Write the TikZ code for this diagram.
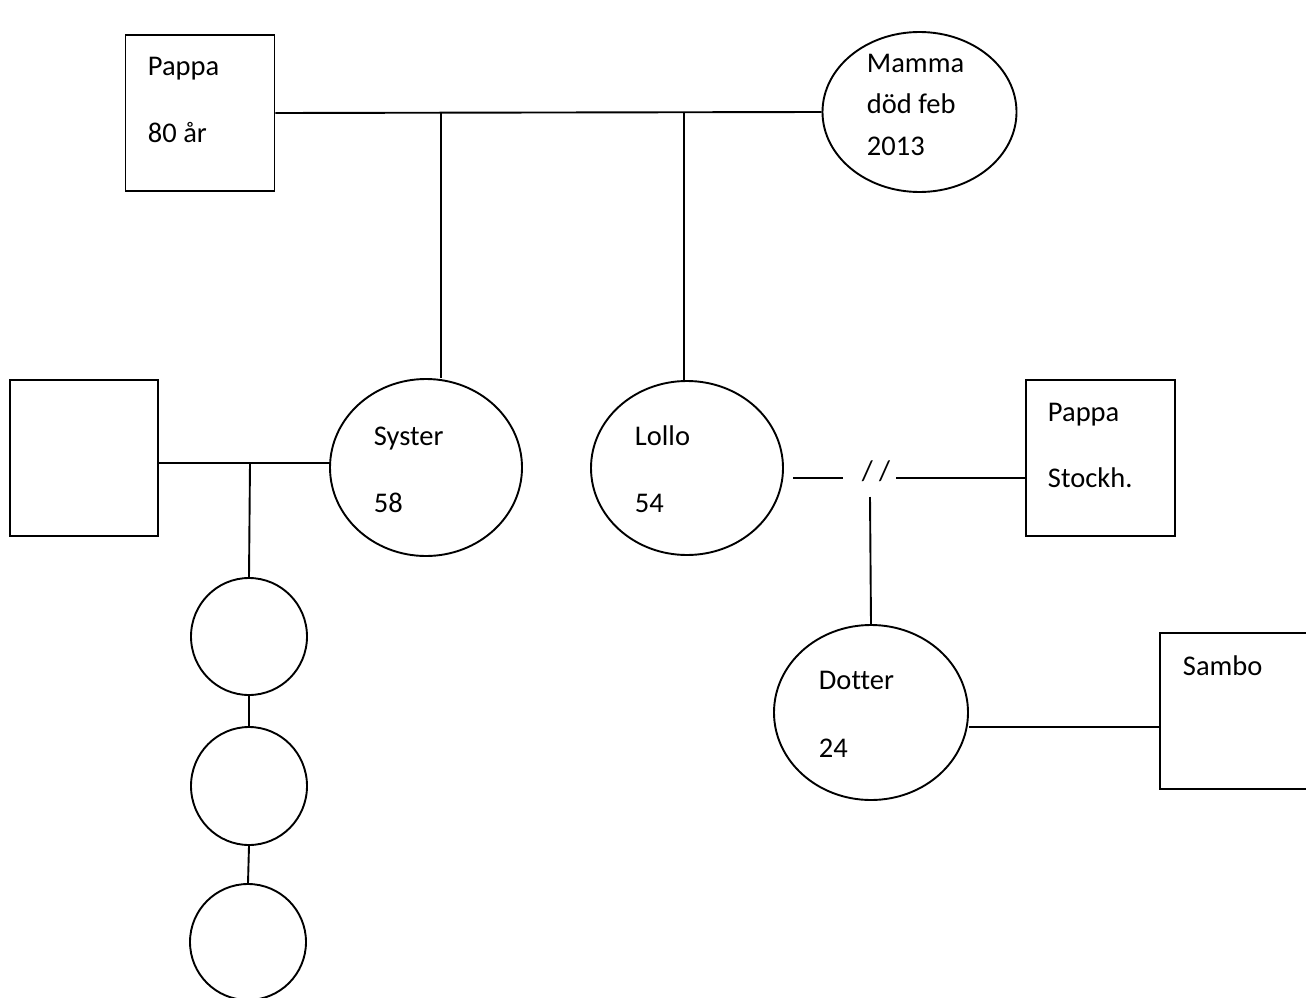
\documentclass[tikz,border=0pt]{standalone}
\usepackage{fontspec}
\setmainfont{Carlito}[Ligatures={NoCommon}]
\usetikzlibrary{shapes.geometric}
\begin{document}
\begin{tikzpicture}[x=1pt,y=-1pt,line width=1.9pt,
  box/.style={draw,rectangle,inner sep=0pt},
  ell/.style={draw,ellipse,inner sep=0pt},
  lbl/.style={anchor=base west,inner sep=0pt,font=\fontsize{28.5}{34}\selectfont}]
\clip (0,0) rectangle (1306,998);
% shapes
\node[box,minimum width=149pt,minimum height=156pt] (pappa) at (200,113) {};
\node[ell,minimum width=194pt,minimum height=160pt] (mamma) at (919.5,112) {};
\node[ell,minimum width=192pt,minimum height=177pt] (syster) at (426,467.5) {};
\node[ell,minimum width=192pt,minimum height=174pt] (lollo) at (687,468) {};
\node[box,minimum width=148pt,minimum height=156pt] (leftbox) at (84,458) {};
\node[ell,minimum width=116pt,minimum height=117pt] (k1) at (249,636.5) {};
\node[ell,minimum width=116pt,minimum height=118pt] (k2) at (249,786) {};
\node[ell,minimum width=116pt,minimum height=116pt] (k3) at (248,942) {};
\node[box,minimum width=149pt,minimum height=156pt] (pstock) at (1100.5,458) {};
\node[ell,minimum width=194pt,minimum height=175pt] (dotter) at (871,712.5) {};
\node[box,minimum width=170pt,minimum height=156pt] (sambo) at (1245,711) {};
% labels
\node[lbl] (t1) at (147,75) {Pappa};
\node[lbl] (t2) at (147,142) {80 år};
\node[lbl] (t3) at (866,72) {Mamma};
\node[lbl] (t4) at (866,113) {död feb};
\node[lbl] (t5) at (866,155) {2013};
\node[lbl] (t6) at (373,445) {Syster};
\node[lbl] (t7) at (373,512) {58};
\node[lbl] (t8) at (634,445) {Lollo};
\node[lbl] (t9) at (634,512) {54};
\node[lbl] (t10) at (1047,421) {Pappa};
\node[lbl] (t11) at (1047,487) {Stockh.};
\node[lbl] (t12) at (818,689) {Dotter};
\node[lbl] (t13) at (818,757) {24};
\node[lbl] (t14) at (1182,675) {Sambo};
\node[inner sep=0pt,font=\fontsize{28.5}{34}\selectfont] (sl) at (876,471) {/ /};
% connectors
\coordinate (j1) at (441,113);
\coordinate (j2) at (684,113);
\coordinate (j3) at (250,463);
\coordinate (m1) at (793,478);
\coordinate (m2) at (843,478);
\coordinate (m3) at (896,478);
\coordinate (m4) at (870,497);
\coordinate (j4) at (1000,727);
\draw (pappa.east) -- (mamma.west);
\draw (j1) -- (j1 |- syster.north);
\draw (j2) -- (j2 |- lollo.north);
\draw (leftbox.east |- j3) -- (syster.west |- j3);
\draw (j3) -- (k1.north);
\draw (k1.south) -- (k2.north);
\draw (k2.south) -- (k3.north);
\draw (m1) -- (m2);
\draw (m3) -- (pstock.west |- m3);
\draw (m4) -- (dotter.north);
\draw (dotter.east |- j4) -- (sambo.west |- j4);
\end{tikzpicture}
\end{document}
